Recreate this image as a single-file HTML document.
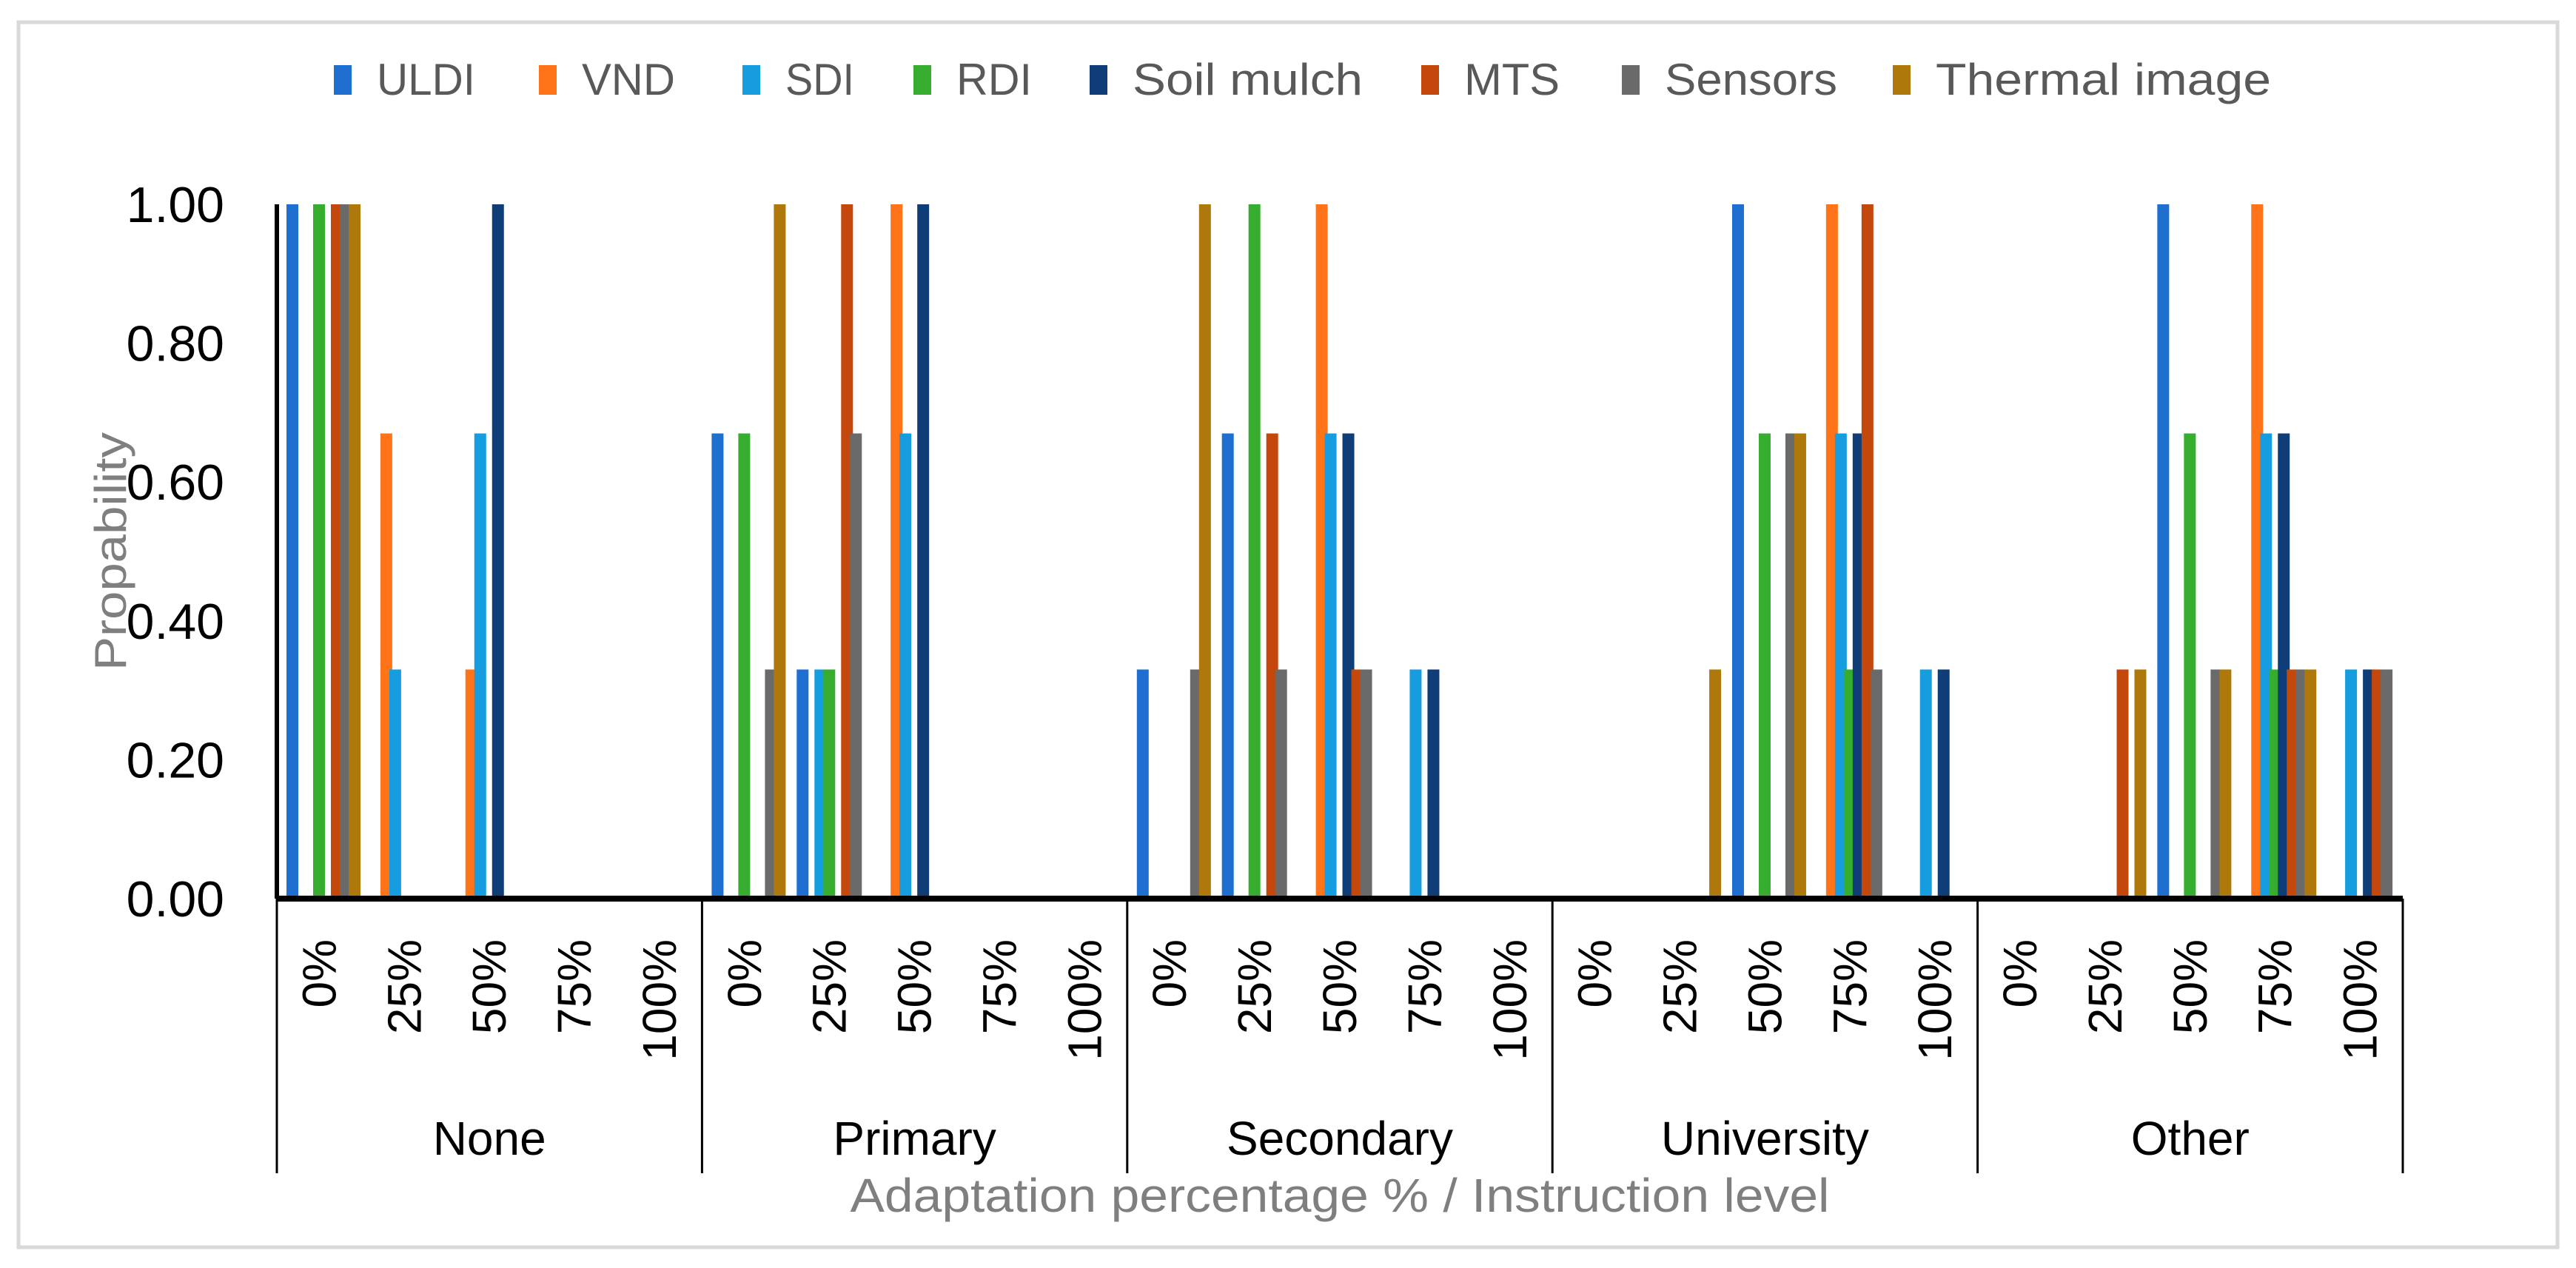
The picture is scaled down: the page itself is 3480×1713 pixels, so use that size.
<!DOCTYPE html>
<html><head><meta charset="utf-8"><style>
html,body{margin:0;padding:0;background:#fff;}
svg{display:block;font-family:"Liberation Sans",sans-serif;}
</style></head><body>
<svg id="chart" width="3480" height="1713" viewBox="0 0 3480 1713" xmlns="http://www.w3.org/2000/svg">
<rect x="25" y="30" width="3430" height="1655" fill="#fff" stroke="#d9d9d9" stroke-width="5"/>
<g id="legend"></g>
<g id="bars"></g>
<g id="axes"></g>
<text transform="translate(170,745) rotate(-90)" text-anchor="middle" font-size="60" fill="#7f7f7f" textLength="322" lengthAdjust="spacingAndGlyphs">Propability</text>
<text x="1810" y="1637" text-anchor="middle" font-size="64" fill="#7f7f7f" textLength="1323" lengthAdjust="spacingAndGlyphs">Adaptation percentage % / Instruction level</text>
</svg>
<script>
const groups = ["None","Primary","Secondary","University","Other"];
const levels = ["0%","25%","50%","75%","100%"];
const seriesNames = ["ULDI","VND","SDI","RDI","Soil mulch","MTS","Sensors","Thermal image"];
const yTicks = [0,0.2,0.4,0.6,0.8,1.0];
// values per series, 25 categories (group x level)
const ULDI    = [1,0,0,0,0, .67,.33,0,0,0, .33,.67,0,0,0, 0,0,1,0,0, 0,0,1,0,0];
const VND     = [0,.67,.33,0,0, 0,0,1,0,0, 0,0,1,0,0, 0,0,0,1,0, 0,0,0,1,0];
const SDI     = [0,.33,.67,0,0, 0,.33,.67,0,0, 0,0,.67,.33,0, 0,0,0,.67,.33, 0,0,0,.67,.33];
const RDI     = [1,0,0,0,0, .67,.33,0,0,0, 0,1,0,0,0, 0,0,.67,.33,0, 0,0,.67,.33,0];
const SOIL    = [0,0,1,0,0, 0,0,1,0,0, 0,0,.67,.33,0, 0,0,0,.67,.33, 0,0,0,.67,.33];
const MTS     = [1,0,0,0,0, 0,1,0,0,0, 0,.67,.33,0,0, 0,0,0,1,0, 0,.33,0,.33,.33];
const SENSORS = [1,0,0,0,0, .33,.67,0,0,0, .33,.33,.33,0,0, 0,0,.67,.33,0, 0,0,.33,.33,.33];
const THERMAL = [1,0,0,0,0, 1,0,0,0,0, 1,0,0,0,0, 0,.33,.67,0,0, 0,.33,.33,.33,0];
const seriesValues = [ULDI,VND,SDI,RDI,SOIL,MTS,SENSORS,THERMAL];
const colors = ["#1f6fd0","#ff7418","#159ddf","#36ad2e","#0f3d78","#c4470b","#6a6a6a","#ae780b"];

const NS="http://www.w3.org/2000/svg";
const X0=374, X1=3246, Y0=1214, Y1=276;
const nCat = groups.length*levels.length;
const catW=(X1-X0)/nCat;
const yScale=v=>Y0-(v)*(Y0-Y1);
const xCat=i=>X0+i*catW;
function mk(tag,attrs,parent){const e=document.createElementNS(NS,tag);for(const k in attrs)e.setAttribute(k,attrs[k]);parent.appendChild(e);return e;}

const bars=document.getElementById('bars');
const axes=document.getElementById('axes');
const legend=document.getElementById('legend');

// bars
const slot=12, bw=16, off=13;
seriesValues.forEach((vals,s)=>{
  vals.forEach((v,i)=>{
    const x=xCat(i)+off+s*slot;
    const y=yScale(v);
    const h=Math.max(Y0-y,3);
    const r=mk('rect',{x:x,y:Y0-h,width:bw,height:h,fill:colors[s]},bars);
    
    
  });
});

// y ticks
yTicks.forEach(t=>{
  const tx=mk('text',{x:303,y:yScale(t)+24,'text-anchor':'end','font-size':68,fill:'#000'},axes);
  tx.textContent=t.toFixed(2);
  
  
});
// axis lines
const ya=mk('line',{x1:X0,y1:Y1,x2:X0,y2:Y0,stroke:'#000','stroke-width':6},axes);


const xa=mk('line',{x1:X0,y1:Y0,x2:X1,y2:Y0,stroke:'#000','stroke-width':8},axes);



// group separators & labels
for(let g=0;g<=groups.length;g++){
  const x=xCat(g*levels.length);
  const l=mk('line',{x1:x,y1:Y0,x2:x,y2:1585,stroke:'#000','stroke-width':3},axes);
  
  
}
groups.forEach((g,gi)=>{
  const cx=xCat(gi*levels.length)+catW*levels.length/2;
  const t=mk('text',{x:cx,y:1560,'text-anchor':'middle','font-size':64,fill:'#000'},axes);
  t.textContent=g;
  
  
  levels.forEach((lv,li)=>{
    const i=gi*levels.length+li;
    const x=xCat(i)+catW/2+22;
    const tl=mk('text',{transform:`translate(${x},1269) rotate(-90)`,'text-anchor':'end','font-size':64,fill:'#000'},axes);
    tl.textContent=lv;
    
    
  });
});

// legend
const legX=[451,728,1003,1234,1472,1920,2191,2557];
const legW=[133,126,93,102,311,129,233,453];
seriesNames.forEach((n,s)=>{
  const sw=mk('rect',{x:legX[s],y:88,width:24,height:40,fill:colors[s]},legend);
  
  
  const t=mk('text',{x:legX[s]+58,y:128,'font-size':60,fill:'#595959',textLength:legW[s],lengthAdjust:'spacingAndGlyphs'},legend);
  t.textContent=n;
  
  
});
</script>
</body></html>
